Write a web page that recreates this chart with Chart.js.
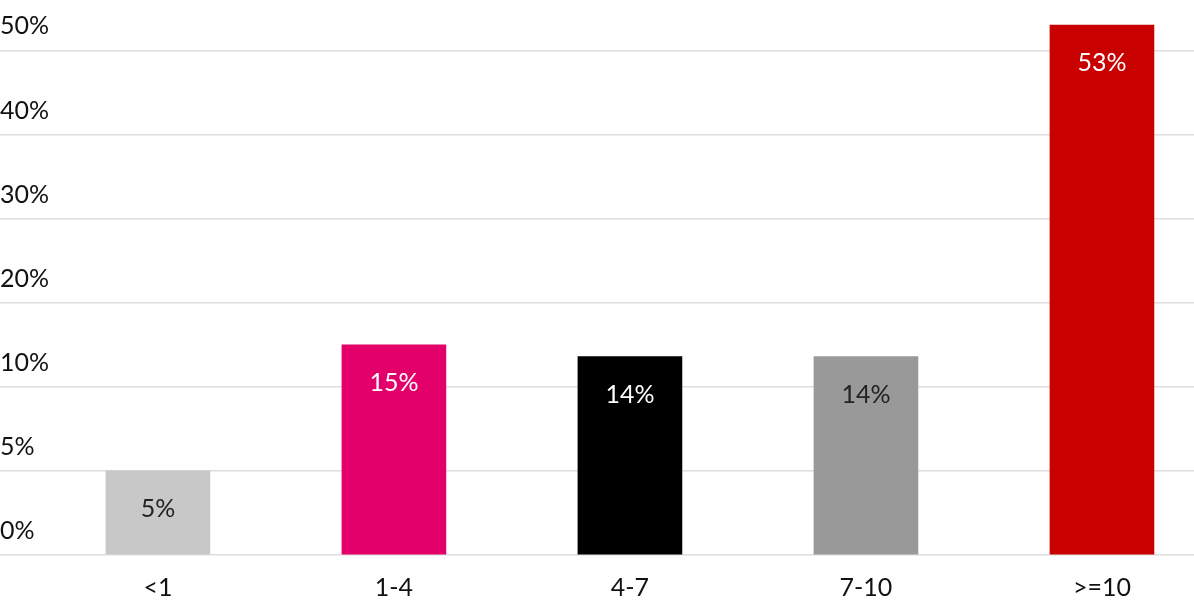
<!DOCTYPE html>
<html><head><meta charset="utf-8">
<script src="https://cdn.jsdelivr.net/npm/chart.js@4"></script>
<style>html,body{margin:0;padding:0;background:#fff}#w{width:1194px;height:613px}</style>
</head><body><div id="w"><canvas id="c"></canvas></div>
<script>
const categories = ['<1','1-4','4-7','7-10','>=10'];
const values = [5, 15, 13.6, 13.6, 53];
const labels = ['5%','15%','14%','14%','53%'];
const colors = ['#c8c8c8','#e3006a','#000000','#999999','#c80000'];
const labelColors = ['#222','#fff','#fff','#222','#fff'];
const yTickLabels = ['0%','5%','10%','20%','30%','40%','50%'];
// axis: equal spacing for 0,5,10,20,30,40,50
function mapV(v){ return v<=10 ? v/5 : 2+(v-10)/10; }

const labelPlugin = {
  id:'vals',
  afterDatasetsDraw(chart){
    const ctx=chart.ctx, meta=chart.getDatasetMeta(0);
    ctx.save(); ctx.font='25px Lato'; ctx.textAlign='center'; ctx.textBaseline='middle';
    meta.data.forEach((b,i)=>{ ctx.fillStyle=labelColors[i]; ctx.fillText(labels[i], b.x, b.y+38); });
    ctx.restore();
  }
};
new Chart(document.getElementById('c'),{
  type:'bar',
  data:{datasets:[{data:values.map((v,i)=>({x:i,y:mapV(v)})),backgroundColor:colors,barThickness:104}]},
  options:{
    responsive:true,maintainAspectRatio:false,animation:false,
    layout:{padding:0},
    plugins:{legend:{display:false},tooltip:{enabled:false}},
    scales:{
      x:{type:'linear',min:-0.669,max:4.39,offset:false,
        grid:{display:false},border:{display:false},
        afterBuildTicks(a){a.ticks=categories.map((c,i)=>({value:i}));},
        ticks:{color:'#111',font:{family:'Lato',size:25},padding:10,callback:(v)=>categories[v]}},
      y:{min:0,max:6.42,
        afterBuildTicks(a){a.ticks=yTickLabels.map((c,i)=>({value:i}));},
        grid:{color:'#dddddd',lineWidth:1.5,drawTicks:false},border:{display:false},
        ticks:{mirror:true,padding:0,labelOffset:-24,color:'#111',font:{family:'Lato',size:25},callback:(v)=>yTickLabels[v]}}
    }
  },
  plugins:[labelPlugin]
});
</script></body></html>
